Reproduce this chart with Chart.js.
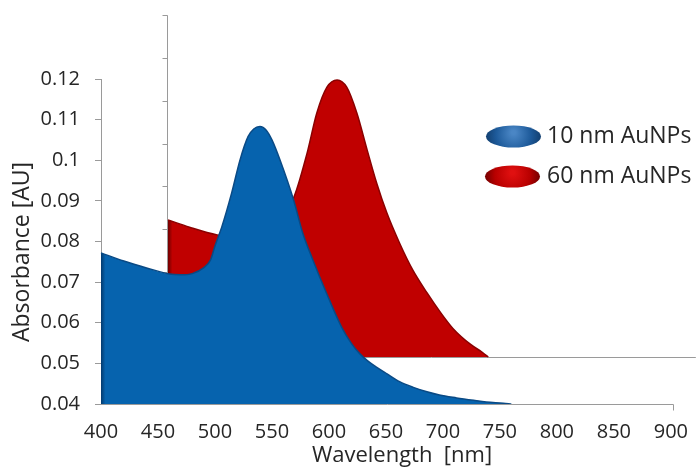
<!DOCTYPE html>
<html><head><meta charset="utf-8">
<script src="https://cdn.jsdelivr.net/npm/chart.js@4.4.1/dist/chart.umd.min.js"></script>
<style>html,body{margin:0;padding:0;background:#fff}#wrap{width:696px;height:470px}</style>
</head><body><div id="wrap"><canvas id="c" width="696" height="470"></canvas></div>
<script>
const seriesNames = ['10 nm AuNPs', '60 nm AuNPs'];
const xAxisTitle = 'Wavelength  [nm]';
const yAxisTitle = 'Absorbance [AU]';
const xTickValues = [400, 450, 500, 550, 600, 650, 700, 750, 800, 850, 900];
const yTickValues = [0.04, 0.05, 0.06, 0.07, 0.08, 0.09, 0.10, 0.11, 0.12];
const backTickValues = [0.04, 0.05, 0.06, 0.07, 0.08, 0.09, 0.10, 0.11, 0.12];

// 10 nm AuNPs (front series)
const blueWavelength = [400, 420, 440, 460, 470, 480, 490, 496, 500, 506, 514.6, 522, 529, 534, 539.5, 545, 550, 557, 569, 577, 586, 598, 611, 620, 627, 634, 642, 651, 662, 674, 686, 697, 712, 727, 738, 753, 760];
const blueAbsorbance = [0.0772, 0.0752, 0.0735, 0.0720, 0.0718, 0.0721, 0.0735, 0.0754, 0.0789, 0.0836, 0.0919, 0.1001, 0.1058, 0.1077, 0.1083, 0.1074, 0.1050, 0.1001, 0.0902, 0.0821, 0.0754, 0.0672, 0.0590, 0.0548, 0.0524, 0.0506, 0.0490, 0.0474, 0.0455, 0.0441, 0.0430, 0.0422, 0.0415, 0.0409, 0.0405, 0.0402, 0.0400];

// 60 nm AuNPs (back series of the 3-D area chart)
const redWavelength = [400, 418, 441, 460, 477, 493, 504, 516, 524, 532.5, 541, 549, 557.5, 566, 574, 582.5, 593, 604, 616, 627, 637.5, 652, 662.5, 667];
const redAbsorbance = [0.0721, 0.0704, 0.0686, 0.0679, 0.0702, 0.0737, 0.0768, 0.0878, 0.0971, 0.1032, 0.1049, 0.1032, 0.0971, 0.0885, 0.0807, 0.0737, 0.0667, 0.0604, 0.0550, 0.0505, 0.0467, 0.0430, 0.0410, 0.0400];

const FONT = "'Open Sans', 'DejaVu Sans', sans-serif";
Chart.defaults.font.family = FONT;
Chart.defaults.color = '#262626';

function sideGradient(ctx, xScaleId, startVal, dark, main) {
  const chart = ctx.chart;
  if (!chart.chartArea) return main;
  const x0 = chart.scales[xScaleId].getPixelForValue(startVal);
  const g = chart.ctx.createLinearGradient(x0, 0, x0 + 8, 0);
  g.addColorStop(0, dark);
  g.addColorStop(0.55, main);
  g.addColorStop(1, main);
  return g;
}

const decor = {
  id: 'decor',
  beforeDatasetsDraw(chart) {
    const c = chart.ctx, xb = chart.scales.xb, yb = chart.scales.yb;
    const area = chart.chartArea;
    c.save();
    c.strokeStyle = '#9a9a9a';
    c.lineWidth = 1;
    const wx = Math.round(xb.getPixelForValue(400)) - 0.5;
    const yTop = yb.getPixelForValue(backTickValues[backTickValues.length - 1]);
    const yBot = yb.getPixelForValue(backTickValues[0]);
    c.beginPath();
    c.moveTo(wx, yTop); c.lineTo(wx, yBot);
    backTickValues.forEach(v => {
      const y = Math.round(yb.getPixelForValue(v)) + 0.5;
      c.moveTo(wx - 5, y); c.lineTo(wx, y);
    });
    const fy = Math.round(yBot) + 0.5;
    c.moveTo(wx, fy); c.lineTo(area.right, fy);
    c.stroke();
    c.restore();
  },
  afterDatasetsDraw(chart) {
    const c = chart.ctx, x = chart.scales.x, y = chart.scales.y;
    c.save();
    c.strokeStyle = '#9a9a9a';
    c.lineWidth = 1;
    const ay = Math.round(y.getPixelForValue(0.04)) + 0.5;
    const xr = Math.round(x.getPixelForValue(900)) + 2.5;
    c.beginPath();
    c.moveTo(x.getPixelForValue(400), ay); c.lineTo(xr, ay); c.lineTo(xr, ay + 6);
    c.stroke();
    // axis titles
    c.fillStyle = '#262626';
    c.textBaseline = 'middle';
    c.textAlign = 'center';
    c.font = "22px " + FONT;
    c.fillText(xAxisTitle, 402, 456);
    c.save();
    c.translate(22, 252);
    c.rotate(-Math.PI / 2);
    c.font = "23px " + FONT;
    c.fillText(yAxisTitle, 0, 0);
    c.restore();
    // legend
    const items = [
      {label: chart.data.datasets[0].label, cx: 513.5, cy: 136.5, c1: '#4a86c5', c2: '#1d5a9a', c3: '#123e6e'},
      {label: chart.data.datasets[1].label, cx: 512.5, cy: 176.5, c1: '#e01010', c2: '#b80000', c3: '#700000'}
    ];
    items.forEach(it => {
      const g = c.createRadialGradient(it.cx, it.cy - 4, 2, it.cx, it.cy, 28);
      g.addColorStop(0, it.c1); g.addColorStop(0.6, it.c2); g.addColorStop(1, it.c3);
      c.fillStyle = g;
      c.beginPath();
      c.ellipse(it.cx, it.cy, 27.5, 11, 0, 0, Math.PI * 2);
      c.fill();
      c.fillStyle = '#262626';
      c.font = "23px " + FONT;
      c.textBaseline = 'middle';
      c.textAlign = 'left';
      c.fillText(it.label, 547, it.cy);
    });
    c.restore();
  }
};

const BLUE = '#0663ae', RED = '#c00000';

new Chart(document.getElementById('c'), {
  type: 'line',
  data: {
    datasets: [
      {
        label: seriesNames[0],
        data: blueWavelength.map((w, i) => ({x: w, y: blueAbsorbance[i]})),
        xAxisID: 'x', yAxisID: 'y',
        fill: {value: 0.04},
        backgroundColor: ctx => sideGradient(ctx, 'x', 400, '#033a6e', BLUE),
        borderColor: '#0a4a85', borderWidth: 1.5,
        pointRadius: 0, cubicInterpolationMode: 'monotone', clip: false
      },
      {
        label: seriesNames[1],
        data: redWavelength.map((w, i) => ({x: w, y: redAbsorbance[i]})),
        xAxisID: 'xb', yAxisID: 'yb',
        fill: {value: 0.04},
        backgroundColor: ctx => sideGradient(ctx, 'xb', 400, '#6e0000', RED),
        borderColor: '#8a0000', borderWidth: 1.5,
        pointRadius: 0, cubicInterpolationMode: 'monotone', clip: false
      }
    ]
  },
  options: {
    responsive: false,
    animation: false,
    layout: {padding: {top: 79, right: 0, left: 0, bottom: 0}},
    plugins: {legend: {display: false}, tooltip: {enabled: false}},
    scales: {
      x: {
        type: 'linear', position: 'bottom',
        min: 400, max: 400 + 595 / 1.14,
        afterBuildTicks: s => { s.ticks = xTickValues.map(v => ({value: v})); },
        afterFit: s => { s.height = 66; },
        grid: {display: false},
        border: {display: false},
        ticks: {font: {size: 20}, padding: 8, maxRotation: 0, color: '#262626'},
        title: {display: false, text: xAxisTitle}
      },
      y: {
        type: 'linear', position: 'left',
        min: 0.04, max: 0.12,
        afterBuildTicks: s => { s.ticks = yTickValues.map(v => ({value: v})); },
        afterFit: s => { s.width = 101; },
        grid: {display: true, drawOnChartArea: false, drawTicks: true, tickLength: 6, color: '#9a9a9a'},
        border: {display: true, color: '#9a9a9a'},
        ticks: {font: {size: 20}, padding: 15, color: '#262626', callback: v => String(Number(v.toFixed(2)))},
        title: {display: false, text: yAxisTitle}
      },
      xb: {
        type: 'linear', display: false,
        min: 400 - 67 / 1.2, max: 400 + 528 / 1.2
      },
      yb: {
        type: 'linear', display: false,
        min: 0.04 - 47 / 4270, max: 0.04 + 278 / 4270
      }
    }
  },
  plugins: [decor]
});
</script>
</body></html>
